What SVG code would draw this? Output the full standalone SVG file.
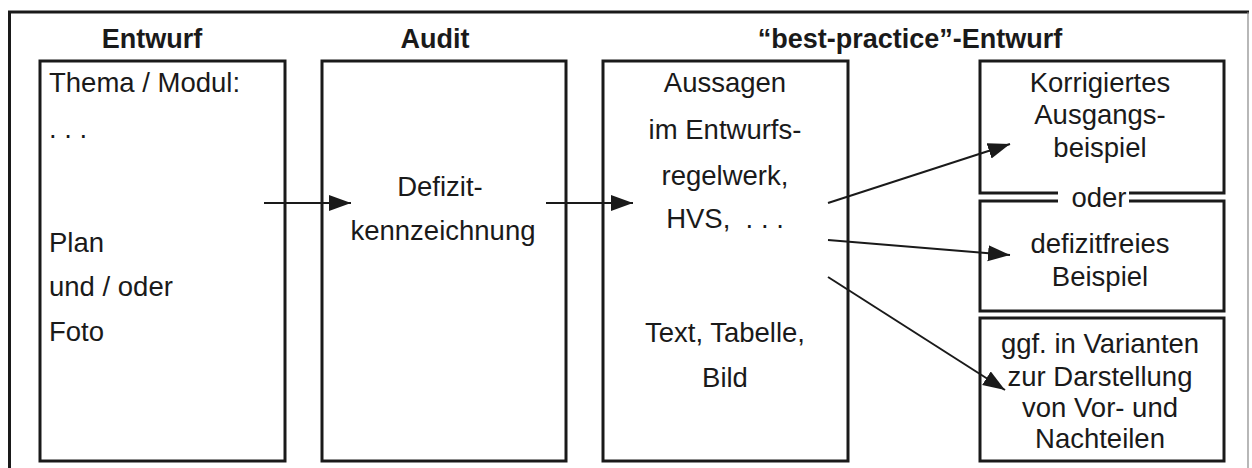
<svg xmlns="http://www.w3.org/2000/svg" width="1252" height="468" viewBox="0 0 1252 468">
<style>
.box{fill:none;stroke:#1a1a1a;stroke-width:3}
.t{font-family:"Liberation Sans",Arial,sans-serif;font-size:27.5px;fill:#1a1a1a}
.c{text-anchor:middle}
.h{font-family:"Liberation Sans",Arial,sans-serif;font-size:27px;font-weight:bold;fill:#1a1a1a;text-anchor:middle}
.con{stroke:#1a1a1a;stroke-width:2;fill:none;marker-end:url(#ah)}
</style>
<defs>
<marker id="ah" markerUnits="userSpaceOnUse" markerWidth="24" markerHeight="18" refX="22" refY="8" orient="auto">
<path d="M0,0 L22,8 L0,16 Z" fill="#1a1a1a"/>
</marker>
</defs>
<rect width="1252" height="468" fill="#fff"/>
<g id="frame">
<line x1="9.5" y1="12" x2="9.5" y2="468" stroke="#1a1a1a" stroke-width="3"/>
<line x1="8" y1="12" x2="1249" y2="12" stroke="#1a1a1a" stroke-width="3"/>
<line x1="1248" y1="12" x2="1248" y2="468" stroke="#888" stroke-width="1.2"/>
</g>
<g id="headers">
<text class="h" x="152" y="48">Entwurf</text>
<text class="h" x="435" y="48">Audit</text>
<text class="h" x="910" y="48">“best-practice”-Entwurf</text>
</g>
<g id="entwurf">
<rect class="box" x="40" y="61" width="245" height="400"/>
<text class="t" x="49" y="92">Thema / Modul:</text>
<text class="t" x="49" y="138">. . .</text>
<text class="t" x="49" y="252">Plan</text>
<text class="t" x="49" y="296">und / oder</text>
<text class="t" x="49" y="341">Foto</text>
</g>
<g id="audit">
<rect class="box" x="322" y="61" width="244" height="400"/>
<text class="t c" x="440" y="196">Defizit-</text>
<text class="t c" x="443" y="240">kennzeichnung</text>
</g>
<g id="bestpractice">
<rect class="box" x="603" y="61" width="245" height="400"/>
<text class="t c" x="725" y="92">Aussagen</text>
<text class="t c" x="725" y="139">im Entwurfs-</text>
<text class="t c" x="725" y="185">regelwerk,</text>
<text class="t c" x="725" y="228" xml:space="preserve">HVS,  . . .</text>
<text class="t c" x="725" y="342">Text, Tabelle,</text>
<text class="t c" x="725" y="387">Bild</text>
</g>
<g id="korrigiert">
<rect class="box" x="980" y="61" width="244" height="132"/>
<text class="t c" x="1100" y="92">Korrigiertes</text>
<text class="t c" x="1100" y="124">Ausgangs-</text>
<text class="t c" x="1100" y="157">beispiel</text>
</g>
<g id="defizitfrei">
<rect class="box" x="980" y="201" width="244" height="110"/>
<text class="t c" x="1100" y="253">defizitfreies</text>
<text class="t c" x="1100" y="286">Beispiel</text>
</g>
<g id="oder">
<rect x="1058" y="188" width="71" height="20" fill="#fff"/>
<text class="t c" x="1099" y="207">oder</text>
</g>
<g id="varianten">
<rect class="box" x="980" y="318" width="244" height="143"/>
<text class="t c" x="1100" y="353">ggf. in Varianten</text>
<text class="t c" x="1100" y="386">zur Darstellung</text>
<text class="t c" x="1100" y="417">von Vor- und</text>
<text class="t c" x="1100" y="448">Nachteilen</text>
</g>
<g id="connectors">
<line class="con" x1="264" y1="203" x2="351" y2="203"/>
<line class="con" x1="546" y1="203" x2="633" y2="203"/>
<line class="con" x1="828" y1="203" x2="1010" y2="144"/>
<line class="con" x1="828" y1="240" x2="1010" y2="255"/>
<line class="con" x1="828" y1="277" x2="1005" y2="390"/>
</g>
</svg>
